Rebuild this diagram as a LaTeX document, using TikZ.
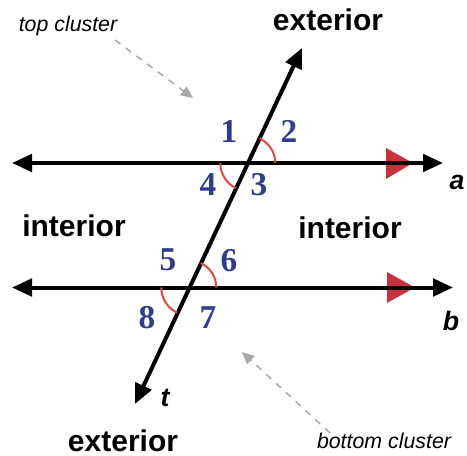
\documentclass[tikz,border=0pt]{standalone}
\usepackage{fontspec}
\setmainfont{Liberation Sans}
\newfontfamily\numfont{Liberation Serif}
\usetikzlibrary{arrows.meta,calc}
\definecolor{numblue}{HTML}{2E3D8F}
\definecolor{trired}{HTML}{C8323C}
\definecolor{arcred}{HTML}{E8453C}
\definecolor{dashgray}{HTML}{A8A8A8}
\begin{document}
\begin{tikzpicture}[x=0.75pt,y=-0.75pt,
  mainline/.style={line width=3pt, black, {Triangle[length=15pt,width=13pt]}-{Triangle[length=15pt,width=13pt]}},
  redtri/.style={fill=trired, draw=none},
  anglearc/.style={draw=arcred, line width=1.5pt},
  num/.style={text=numblue, font=\numfont\bfseries\fontsize{25pt}{25pt}\selectfont, inner sep=0pt},
  region/.style={font=\bfseries\fontsize{22.5pt}{22.5pt}\selectfont, inner sep=0pt},
  cluster/.style={font=\itshape\fontsize{16pt}{16pt}\selectfont, inner sep=0pt},
  linelabel/.style={font=\bfseries\itshape\fontsize{20pt}{20pt}\selectfont, inner sep=0pt},
  hint/.style={draw=dashgray, line width=1.1pt, dash pattern=on 5pt off 5pt, -{Triangle[length=9pt,width=8pt,fill=dashgray]}}
]
\useasboundingbox (0,0) rectangle (467,456);
% named points
\coordinate (aL) at (12,163);
\coordinate (aR) at (443,163);
\coordinate (bL) at (12,287.5);
\coordinate (bR) at (453,287.5);
\coordinate (tB) at (135,404);
\coordinate (tT) at (302,48);
\coordinate (P) at (248.3,163);
\coordinate (Q) at (189.3,287.5);
% red parallel markers
\fill[redtri] (386,148) -- (413,163) -- (386,179) -- cycle;
\fill[redtri] (387,272) -- (415,287.5) -- (387,303) -- cycle;
% lines
\draw[mainline] (aL) -- (aR);
\draw[mainline] (bL) -- (bR);
\draw[mainline] (tB) -- (tT);
% angle arcs
\draw[anglearc] ($(P)+(27,0)$) arc[start angle=0, end angle=-65, radius=27];
\draw[anglearc] ($(P)+(-28,0)$) arc[start angle=180, end angle=116, radius=28];
\draw[anglearc] ($(Q)+(27,0)$) arc[start angle=0, end angle=-65, radius=27];
\draw[anglearc] ($(Q)+(-28,0)$) arc[start angle=180, end angle=116, radius=28];
% numbers
\node[num] (n1) at (229,131) {1};
\node[num] (n2) at (289,131) {2};
\node[num] (n3) at (259,185) {3};
\node[num] (n4) at (208,185) {4};
\node[num] (n5) at (168,260) {5};
\node[num] (n6) at (229,261) {6};
\node[num] (n7) at (208,318) {7};
\node[num] (n8) at (147,318) {8};
% region labels
\node[region] (extop) at (328,20) {exterior};
\node[region] (exbot) at (123,441) {exterior};
\node[region] (inL) at (74,226) {interior};
\node[region] (inR) at (350,228) {interior};
% line labels
\node[linelabel] (la) at (457,182) {a};
\node[linelabel] (lb) at (451,321) {b};
\node[linelabel] (lt) at (165,398) {t};
% cluster hints
\node[cluster] (topcl) at (68,26) {top cluster};
\node[cluster] (botcl) at (384,441) {bottom cluster};
\coordinate (tcs) at (115,40);
\coordinate (tce) at (193,98);
\coordinate (bcs) at (330,433);
\coordinate (bce) at (242,352);
\draw[hint] (tcs) -- (tce);
\draw[hint] (bcs) -- (bce);
\end{tikzpicture}
\end{document}
